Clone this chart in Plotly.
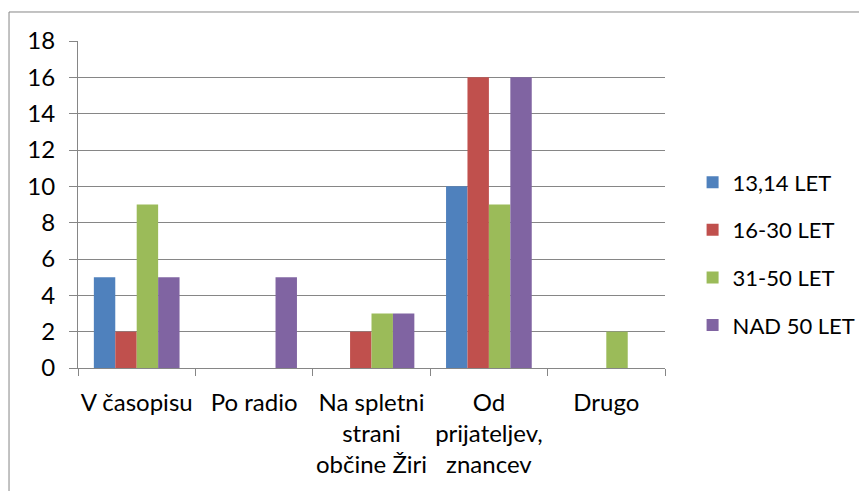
import plotly.graph_objects as go

categories = ["V časopisu", "Po radio", "Na spletni<br>strani<br>občine Žiri", "Od<br>prijateljev,<br>znancev", "Drugo"]
series_names = ["13,14 LET", "16-30 LET", "31-50 LET", "NAD 50 LET"]
s1 = [5, 0, 0, 10, 0]
s2 = [2, 0, 2, 16, 0]
s3 = [9, 0, 3, 9, 2]
s4 = [5, 5, 3, 16, 0]
colors = ["#4F81BD", "#C0504D", "#9BBB59", "#8064A2"]

FONT = "Lato"
GRAY = "#868686"

fig = go.Figure()
for i, (name, vals) in enumerate(zip(series_names, [s1, s2, s3, s4])):
    fig.add_trace(go.Bar(x=categories, y=vals, name=name, legendgroup=f"g{i}",
                         marker=dict(color=colors[i], line=dict(width=0))))

fig.update_layout(
    width=867, height=491,
    margin=dict(l=70, r=210, t=33, b=131, autoexpand=False),
    paper_bgcolor="white", plot_bgcolor="white",
    font=dict(family=FONT, size=24, color="black"),
    barmode="group", bargap=0.27, bargroupgap=0,
    legend=dict(x=1.047, y=0.349, xanchor="left", yanchor="middle",
                traceorder="grouped", tracegroupgap=16,
                font=dict(family=FONT, size=22, color="black"),
                itemwidth=30),
    showlegend=True,
)
fig.update_yaxes(range=[0, 18], dtick=2, showgrid=True, gridcolor=GRAY, gridwidth=1,
                 showline=True, linecolor=GRAY, linewidth=1, automargin=False,
                 ticks="outside", ticklen=8, tickcolor=GRAY, zeroline=False,
                 ticklabelstandoff=9)
fig.update_xaxes(showline=True, linecolor=GRAY, linewidth=1, tickson="boundaries",
                 ticks="outside", ticklen=7, tickcolor=GRAY, tickangle=0, automargin=False,
                 ticklabelstandoff=13)

fig.add_shape(type="rect", xref="paper", yref="paper",
              x0=-0.1175, x1=1.342, y0=-0.4, y1=1.0887,
              line=dict(color=GRAY, width=1), fillcolor="rgba(0,0,0,0)", layer="below")

fig.write_html("out.html")
